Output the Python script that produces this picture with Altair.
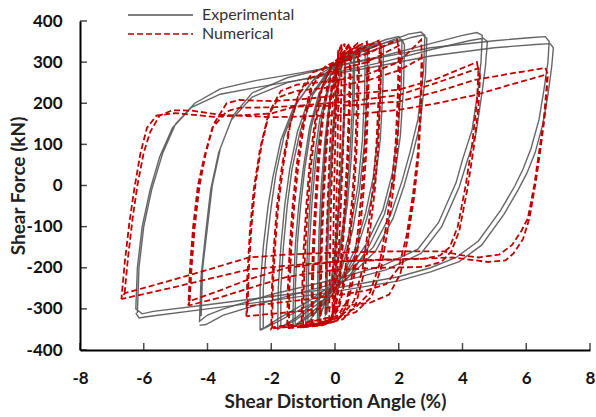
import altair as alt
import pandas as pd

# ---------------- Experimental loops (two cycles per amplitude) ----------------
exp_66 = [(-6.2,-310),(-6.15,-200),(-6.0,-100),(-5.75,-10),(-5.4,80),(-5.0,150),(-4.4,200),(-3.6,235),(-2.5,255),(-1.0,275),(1.0,305),(3.0,335),(5.0,352),(6.2,360),(6.6,362),(6.72,350),(6.68,300),(6.55,230),(6.4,160),(6.15,90),(5.9,40),(5.65,0),(5.2,-60),(4.5,-135),(3.8,-175),(3.0,-200),(2.0,-222),(0.0,-250),(-2.0,-270),(-4.0,-290),(-5.7,-306),(-6.05,-312),
          (-6.25,-300),(-6.2,-200),(-6.05,-100),(-5.8,-10),(-5.5,70),(-5.1,140),(-4.5,190),(-3.6,222),(-2.5,238),(-1.0,258),(1.0,285),(3.0,315),(5.0,335),(6.3,343),(6.75,345),(6.85,335),(6.8,290),(6.68,220),(6.52,150),(6.28,80),(6.02,30),(5.75,-10),(5.3,-70),(4.6,-145),(3.9,-185),(3.0,-210),(2.0,-232),(0.0,-258),(-2.0,-280),(-4.0,-300),(-5.8,-318),(-6.15,-322),(-6.25,-310)]
exp_45 = [(-4.2,-318),(-4.15,-200),(-4.0,-100),(-3.85,0),(-3.6,90),(-3.2,170),(-2.6,225),(-1.5,262),(0.0,290),(1.5,315),(3.0,345),(4.0,365),(4.45,372),(4.62,365),(4.58,300),(4.5,240),(4.3,135),(4.0,63),(3.8,7),(3.25,-90),(2.6,-155),(1.5,-195),(0.0,-228),(-2.0,-265),(-3.5,-300),(-4.0,-315),
          (-4.25,-330),(-4.2,-220),(-4.05,-110),(-3.9,-10),(-3.65,80),(-3.25,160),(-2.6,215),(-1.5,250),(0.0,275),(1.5,300),(3.0,330),(4.2,352),(4.65,358),(4.78,350),(4.72,290),(4.62,230),(4.42,125),(4.12,53),(3.9,-3),(3.35,-100),(2.7,-165),(1.6,-205),(0.0,-238),(-2.0,-280),(-3.5,-315),(-4.05,-338),(-4.25,-340)]
exp_27 = [(-2.25,-345),(-2.25,-250),(-2.15,-150),(-2.0,-50),(-1.85,30),(-1.6,120),(-1.2,200),(-0.6,265),(0.5,315),(1.5,345),(2.3,368),(2.7,373),(2.82,365),(2.78,280),(2.6,160),(2.35,80),(2.1,10),(1.75,-70),(1.2,-150),(0.3,-220),(-0.8,-280),(-1.8,-325),(-2.2,-345),
          (-2.35,-350),(-2.35,-250),(-2.25,-150),(-2.1,-50),(-1.95,20),(-1.7,110),(-1.3,190),(-0.7,255),(0.4,305),(1.5,338),(2.4,360),(2.75,366),(2.88,358),(2.84,270),(2.67,150),(2.42,70),(2.17,0),(1.82,-80),(1.27,-160),(0.3,-232),(-0.8,-290),(-1.9,-335),(-2.35,-352)]
exp_20 = [(-1.7,-345),(-1.7,-250),(-1.62,-150),(-1.5,-50),(-1.35,40),(-1.1,130),(-0.7,220),(-0.1,285),(0.8,330),(1.6,355),(2.0,362),(2.1,350),(2.08,250),(1.98,130),(1.8,30),(1.5,-60),(1.0,-140),(0.4,-210),(-0.4,-270),(-1.2,-320),(-1.7,-345),
          (-1.8,-350),(-1.78,-250),(-1.7,-150),(-1.58,-50),(-1.42,40),(-1.18,130),(-0.8,215),(-0.2,280),(0.7,322),(1.6,348),(2.1,355),(2.18,342),(2.15,240),(2.05,120),(1.86,20),(1.55,-70),(1.05,-150),(0.45,-220),(-0.4,-280),(-1.25,-328),(-1.8,-350)]
exp_14 = [(-1.25,-340),(-1.24,-240),(-1.18,-140),(-1.08,-50),(-0.95,40),(-0.75,140),(-0.45,230),(0.1,295),(0.8,335),(1.35,352),(1.45,342),(1.43,240),(1.35,120),(1.2,20),(0.95,-70),(0.6,-160),(0.1,-240),(-0.6,-300),(-1.25,-340),
          (-1.32,-345),(-1.3,-240),(-1.24,-140),(-1.14,-50),(-1.0,40),(-0.8,140),(-0.5,225),(0.05,290),(0.8,328),(1.42,345),(1.52,335),(1.5,230),(1.42,110),(1.26,10),(1.0,-80),(0.62,-170),(0.1,-250),(-0.6,-308),(-1.32,-345)]
exp_09 = [(-0.85,-335),(-0.84,-240),(-0.8,-140),(-0.72,-40),(-0.6,60),(-0.42,160),(-0.15,250),(0.3,310),(0.85,340),(0.95,330),(0.93,230),(0.86,110),(0.72,0),(0.5,-100),(0.2,-190),(-0.2,-260),(-0.85,-335),
          (-0.92,-340),(-0.9,-240),(-0.86,-140),(-0.78,-40),(-0.66,60),(-0.48,160),(-0.2,245),(0.3,305),(0.92,335),(1.02,325),(1.0,220),(0.92,100),(0.77,-10),(0.55,-110),(0.22,-200),(-0.2,-270),(-0.92,-340)]
exp_05 = [(-0.5,-325),(-0.49,-220),(-0.45,-110),(-0.38,0),(-0.28,110),(-0.12,220),(0.15,300),(0.5,330),(0.58,315),(0.55,200),(0.47,80),(0.35,-40),(0.15,-150),(-0.1,-240),(-0.5,-325),
          (-0.55,-330),(-0.54,-220),(-0.5,-110),(-0.43,0),(-0.32,110),(-0.16,215),(0.12,295),(0.55,325),(0.62,310),(0.6,195),(0.52,75),(0.39,-45),(0.18,-155),(-0.1,-245),(-0.55,-330)]
exp_03 = [(-0.25,-310),(-0.24,-200),(-0.2,-90),(-0.13,20),(-0.04,130),(0.08,230),(0.25,310),(0.3,295),(0.28,180),(0.2,60),(0.1,-60),(-0.02,-170),(-0.25,-310),
          (-0.3,-315),(-0.28,-200),(-0.24,-90),(-0.17,20),(-0.08,130),(0.04,230),(0.28,315),(0.33,300),(0.31,180),(0.23,60),(0.13,-60),(0.0,-180),(-0.3,-315)]

# ---------------- Numerical loops (two cycles per amplitude) ----------------
num_66 = [(-6.6,-262),(-6.5,-180),(-6.35,-80),(-6.2,0),(-6.0,80),(-5.8,130),(-5.5,170),(-5.1,183),(-4.5,182),(-3.6,172),(-2.0,166),(-1.0,168),(0.5,172),(2.0,184),(3.2,200),(4.4,220),(5.5,245),(6.6,269),(6.65,250),(6.55,160),(6.4,80),(6.25,0),(6.05,-80),(5.85,-110),(5.55,-145),(5.15,-168),(4.5,-175),(4.0,-170),(3.4,-160),(2.0,-160),(0.0,-163),(-1.5,-168),(-2.7,-175),(-4.0,-205),(-5.2,-232),(-6.6,-262),
          (-6.7,-276),(-6.6,-190),(-6.45,-90),(-6.3,-10),(-6.1,80),(-5.9,140),(-5.6,170),(-5.0,176),(-3.8,167),(-2.0,175),(-1.25,192),(0.5,195),(2.0,204),(3.2,228),(4.4,257),(5.5,272),(6.6,286),(6.68,270),(6.6,180),(6.45,90),(6.3,10),(6.1,-80),(5.9,-130),(5.6,-165),(5.35,-182),(4.8,-186),(3.7,-175),(2.0,-180),(0.0,-185),(-1.5,-195),(-2.7,-204),(-4.0,-228),(-5.2,-250),(-6.7,-276)]
num_45 = [(-4.56,-281),(-4.5,-200),(-4.4,-100),(-4.25,0),(-4.05,80),(-3.8,150),(-3.4,200),(-3.0,208),(-2.0,205),(-1.0,210),(0.5,222),(2.0,233),(3.2,260),(4.45,300),(4.5,280),(4.45,200),(4.3,100),(4.1,0),(3.85,-100),(3.6,-150),(3.3,-170),(2.8,-178),(1.5,-180),(0.0,-185),(-1.5,-200),(-2.7,-228),(-3.6,-255),(-4.56,-281),
          (-4.6,-292),(-4.55,-200),(-4.45,-100),(-4.3,0),(-4.1,70),(-3.85,140),(-3.4,180),(-3.0,189),(-2.0,190),(-1.0,195),(0.5,205),(2.0,220),(3.2,250),(4.5,285),(4.55,265),(4.5,190),(4.35,90),(4.15,-10),(3.9,-110),(3.65,-160),(3.35,-185),(2.8,-198),(1.5,-200),(0.0,-205),(-1.5,-222),(-2.7,-250),(-3.6,-272),(-4.6,-292)]
num_27 = [(-2.74,-293),(-2.7,-200),(-2.62,-100),(-2.5,0),(-2.3,100),(-2.05,180),(-1.7,230),(-1.2,245),(0.0,255),(1.0,270),(2.0,300),(2.7,354),(2.72,320),(2.68,200),(2.6,80),(2.45,-20),(2.25,-120),(2.0,-200),(1.6,-240),(1.0,-255),(0.0,-268),(-1.0,-278),(-2.0,-287),(-2.74,-293),
          (-2.78,-318),(-2.75,-220),(-2.67,-110),(-2.55,-10),(-2.35,90),(-2.1,170),(-1.75,215),(-1.2,230),(0.0,240),(1.0,255),(2.0,280),(2.72,310),(2.74,290),(2.7,190),(2.62,70),(2.48,-30),(2.28,-130),(2.05,-215),(1.7,-265),(1.1,-285),(0.0,-295),(-1.0,-305),(-2.0,-312),(-2.78,-318)]
num_20 = [(-1.97,-345),(-1.95,-250),(-1.88,-150),(-1.78,-50),(-1.62,50),(-1.4,150),(-1.1,230),(-0.7,275),(0.0,295),(1.0,320),(1.95,354),(2.0,330),(1.97,220),(1.9,100),(1.78,0),(1.6,-100),(1.4,-190),(1.1,-260),(0.6,-300),(0.0,-318),(-1.0,-335),(-1.97,-345),
          (-2.0,-348),(-1.98,-250),(-1.92,-150),(-1.82,-50),(-1.66,50),(-1.44,140),(-1.15,220),(-0.75,262),(0.0,280),(1.0,300),(2.0,340),(2.05,320),(2.02,210),(1.95,90),(1.83,-10),(1.65,-110),(1.45,-200),(1.15,-270),(0.65,-308),(0.0,-325),(-1.0,-340),(-2.0,-348)]
num_14 = [(-1.45,-345),(-1.43,-250),(-1.37,-150),(-1.28,-50),(-1.15,50),(-0.97,150),(-0.72,240),(-0.3,290),(0.4,315),(1.37,352),(1.4,330),(1.37,220),(1.3,100),(1.2,0),(1.05,-100),(0.87,-200),(0.6,-280),(0.2,-318),(-0.5,-335),(-1.45,-345),
          (-1.5,-347),(-1.48,-250),(-1.42,-150),(-1.33,-50),(-1.2,50),(-1.02,150),(-0.77,235),(-0.35,285),(0.4,308),(1.42,345),(1.45,322),(1.42,210),(1.35,90),(1.25,-10),(1.1,-110),(0.92,-210),(0.65,-290),(0.25,-325),(-0.5,-340),(-1.5,-347)]
num_10 = [(-1.0,-343),(-0.98,-250),(-0.93,-150),(-0.85,-50),(-0.75,50),(-0.6,150),(-0.4,240),(-0.05,300),(0.5,330),(1.0,350),(1.02,325),(0.99,210),(0.93,90),(0.84,-10),(0.72,-110),(0.56,-210),(0.35,-285),(0.05,-322),(-0.4,-336),(-1.0,-343),
          (-1.05,-345),(-1.03,-250),(-0.98,-150),(-0.9,-50),(-0.8,50),(-0.65,145),(-0.45,232),(-0.1,292),(0.5,322),(1.05,343),(1.07,318),(1.04,200),(0.98,80),(0.89,-20),(0.77,-120),(0.6,-220),(0.38,-292),(0.08,-328),(-0.4,-340),(-1.05,-345)]
num_07 = [(-0.7,-340),(-0.69,-240),(-0.65,-140),(-0.58,-40),(-0.5,60),(-0.38,160),(-0.2,250),(0.1,305),(0.7,345),(0.72,320),(0.69,200),(0.63,80),(0.55,-20),(0.44,-120),(0.3,-220),(0.1,-295),(-0.2,-330),(-0.7,-340),
          (-0.74,-342),(-0.73,-240),(-0.69,-140),(-0.62,-40),(-0.54,60),(-0.42,155),(-0.24,245),(0.08,300),(0.74,340),(0.76,315),(0.73,195),(0.67,75),(0.59,-25),(0.48,-125),(0.33,-225),(0.12,-300),(-0.2,-334),(-0.74,-342)]
num_045 = [(-0.45,-338),(-0.44,-240),(-0.41,-140),(-0.36,-40),(-0.29,60),(-0.2,160),(-0.07,250),(0.12,310),(0.45,345),(0.47,320),(0.44,200),(0.39,80),(0.32,-20),(0.24,-120),(0.14,-220),(0.0,-295),(-0.15,-330),(-0.45,-338),
           (-0.48,-340),(-0.47,-240),(-0.44,-140),(-0.39,-40),(-0.32,60),(-0.23,158),(-0.1,248),(0.1,305),(0.48,342),(0.5,318),(0.47,198),(0.42,78),(0.35,-22),(0.27,-122),(0.17,-222),(0.03,-297),(-0.15,-332),(-0.48,-340)]
num_03 = [(-0.3,-335),(-0.29,-240),(-0.27,-140),(-0.23,-40),(-0.18,60),(-0.11,160),(-0.02,250),(0.1,310),(0.3,345),(0.31,320),(0.29,200),(0.25,80),(0.2,-20),(0.14,-120),(0.07,-220),(-0.02,-295),(-0.12,-328),(-0.3,-335)]
num_02 = [(-0.18,-330),(-0.17,-230),(-0.15,-130),(-0.12,-30),(-0.08,70),(-0.03,170),(0.03,260),(0.1,320),(0.2,345),(0.21,320),(0.19,200),(0.16,80),(0.12,-20),(0.07,-120),(0.02,-220),(-0.05,-295),(-0.1,-325),(-0.18,-330)]
num_01 = [(-0.08,-320),(-0.07,-220),(-0.05,-120),(-0.03,-20),(0.0,80),(0.03,180),(0.06,260),(0.1,330),(0.12,320),(0.1,200),(0.08,80),(0.05,-20),(0.02,-120),(-0.02,-220),(-0.05,-290),(-0.08,-320)]

x_ticks = [-8, -6, -4, -2, 0, 2, 4, 6, 8]
y_ticks = [-400, -300, -200, -100, 0, 100, 200, 300, 400]
series_names = ["Experimental", "Numerical"]

exp_paths = {"e66": exp_66, "e45": exp_45, "e27": exp_27, "e20": exp_20,
             "e14": exp_14, "e09": exp_09, "e05": exp_05, "e03": exp_03}
num_paths = {"n66": num_66, "n45": num_45, "n27": num_27, "n20": num_20,
             "n14": num_14, "n10": num_10, "n07": num_07, "n045": num_045,
             "n03": num_03, "n02": num_02, "n01": num_01}

rows = []
for name, pts in exp_paths.items():
    for i, (x, y) in enumerate(pts):
        rows.append({"x": x, "y": y, "path": name, "i": i, "series": "Experimental"})
for name, pts in num_paths.items():
    for i, (x, y) in enumerate(pts):
        rows.append({"x": x, "y": y, "path": name, "i": i, "series": "Numerical"})
df = pd.DataFrame(rows)

FONT = "Lato"
GRAY = "#555555"
RED = "#c00000"

xscale = alt.Scale(domain=[-8, 8], nice=False, zero=False)
yscale = alt.Scale(domain=[-400, 400], nice=False, zero=False)

xaxis = alt.Axis(values=x_ticks, title="Shear Distortion  Angle (%)", ticks=False,
                 labelExpr="datum.value + ''",
                 labelFontSize=17, labelFontWeight="bold", labelFont=FONT, labelColor="#111",
                 labelPadding=20, titleFontSize=19, titleFontWeight="bold", titleFont=FONT,
                 titleColor="#222", titlePadding=6, domainColor="black", domainWidth=2,
                 grid=False, labelFlush=False)
yaxis = alt.Axis(values=y_ticks, title="Shear Force (kN)", ticks=False,
                 labelExpr="datum.value + ''",
                 labelFontSize=17, labelFontWeight="bold", labelFont=FONT, labelColor="#111",
                 labelPadding=18, titleFontSize=19, titleFontWeight="bold", titleFont=FONT,
                 titleColor="#222", titlePadding=-2, domainColor="black", domainWidth=2,
                 grid=False, labelFlush=False)

exp_layer = alt.Chart(df[df.series == "Experimental"]).mark_line(
    strokeWidth=1.4, opacity=0.9, color=GRAY).encode(
    x=alt.X("x:Q", scale=xscale, axis=xaxis),
    y=alt.Y("y:Q", scale=yscale, axis=yaxis),
    detail="path:N",
    order="i:Q",
)
num_layer = alt.Chart(df[df.series == "Numerical"]).mark_line(
    strokeWidth=1.8, color=RED, strokeDash=[6, 3]).encode(
    x=alt.X("x:Q", scale=xscale),
    y=alt.Y("y:Q", scale=yscale),
    detail="path:N",
    order="i:Q",
)

xt_df = pd.DataFrame({"t": x_ticks, "base": [-400] * len(x_ticks)})
yt_df = pd.DataFrame({"t": y_ticks, "base": [-8] * len(y_ticks)})
xtick_layer = alt.Chart(xt_df).mark_tick(orient="vertical", size=7, thickness=1.5, color="black", yOffset=-3.5).encode(
    x=alt.X("t:Q", scale=xscale), y=alt.Y("base:Q", scale=yscale))
ytick_layer = alt.Chart(yt_df).mark_tick(orient="horizontal", size=7, thickness=1.5, color="black", xOffset=3.5).encode(
    y=alt.Y("t:Q", scale=yscale), x=alt.X("base:Q", scale=xscale))

# legend (drawn as layered marks, top-left inside the frame)
leg_exp = pd.DataFrame({"label": [series_names[0]]})
leg_num = pd.DataFrame({"label": [series_names[1]]})
leg_exp_line = alt.Chart(leg_exp).mark_rule(color=GRAY, strokeWidth=1.5).encode(
    x=alt.value(48), x2=alt.value(113), y=alt.value(-6))
leg_num_line = alt.Chart(leg_num).mark_rule(color=RED, strokeWidth=1.6, strokeDash=[6, 3]).encode(
    x=alt.value(48), x2=alt.value(113), y=alt.value(13))
leg_exp_text = alt.Chart(leg_exp).mark_text(align="left", baseline="middle", font=FONT,
                                            fontSize=16, color="#333").encode(
    x=alt.value(122), y=alt.value(-6), text="label:N")
leg_num_text = alt.Chart(leg_num).mark_text(align="left", baseline="middle", font=FONT,
                                            fontSize=16, color="#333").encode(
    x=alt.value(122), y=alt.value(13), text="label:N")

chart = alt.layer(exp_layer, num_layer, xtick_layer, ytick_layer,
                  leg_exp_line, leg_num_line, leg_exp_text, leg_num_text).properties(
    width=510, height=329,
    autosize=alt.AutoSizeParams(type="none"),
    padding={"left": 80, "top": 21, "right": 6, "bottom": 67},
    background="white",
).configure_view(stroke=None)

chart.save("out.html", embed_options={"renderer": "svg", "actions": False})
